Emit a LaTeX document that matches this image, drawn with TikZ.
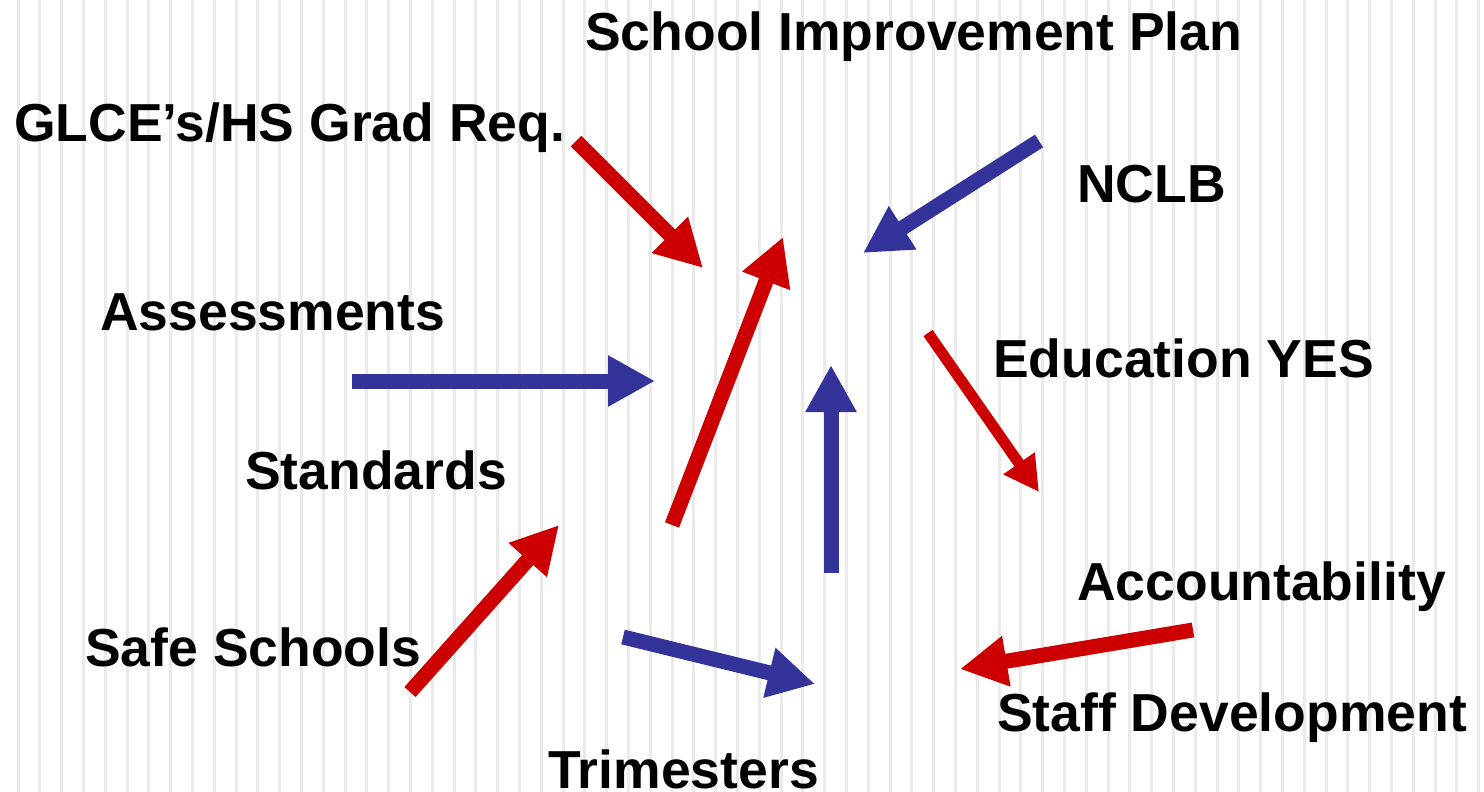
\documentclass[tikz,border=0pt]{standalone}
\usepackage{fontspec}
\setmainfont{Liberation Sans}
\usetikzlibrary{arrows.meta}
\definecolor{arrred}{HTML}{CC0000}
\definecolor{arrblue}{HTML}{333399}
\definecolor{stripegray}{HTML}{EAEAEA}
\begin{document}
\begin{tikzpicture}[x=1pt,y=-1pt,
  lbl/.style={anchor=base west, inner sep=0pt, font=\fontsize{53.5}{60}\selectfont\bfseries},
  bigarrow/.style={line width=15pt, -{Triangle[length=47pt,width=48pt]}},
  thinarrow/.style={line width=11pt, -{Triangle[length=35pt,width=36pt]}},
  stripe/.style={draw=stripegray, line width=3pt},
]
\useasboundingbox (0,0) rectangle (1484,792);
\fill[white] (0,0) rectangle (1484,792);
\foreach \i in {0,...,67} {
  \draw[stripe] ({18+21.8*\i},0) -- ({18+21.8*\i},792);
}
% labels
\node[lbl] (sip) at (585,51) {School Improvement Plan};
\node[lbl] (glce) at (14,141) {GLCE’s/HS Grad Req.};
\node[lbl] (nclb) at (1077,202) {NCLB};
\node[lbl] (assess) at (100,330) {Assessments};
\node[lbl] (eduyes) at (993,377) {Education YES};
\node[lbl] (stand) at (245,489) {Standards};
\node[lbl] (acc) at (1077,600) {Accountability};
\node[lbl] (safe) at (85,666) {Safe Schools};
\node[lbl] (staff) at (997,731) {Staff Development};
\node[lbl] (trim) at (548,788) {Trimesters};
% arrow end points
\coordinate (a1s) at (576,141);   \coordinate (a1e) at (703,268);
\coordinate (a2s) at (672,525);   \coordinate (a2e) at (783,237);
\coordinate (a3s) at (1039,141);  \coordinate (a3e) at (863,253);
\coordinate (a4s) at (352,381);   \coordinate (a4e) at (655,381);
\coordinate (a5s) at (831,573);   \coordinate (a5e) at (831,365);
\coordinate (a6s) at (928,333);   \coordinate (a6e) at (1039,492);
\coordinate (a7s) at (410,692);   \coordinate (a7e) at (559,525);
\coordinate (a8s) at (623,637);   \coordinate (a8e) at (815,684);
\coordinate (a9s) at (1193,630);  \coordinate (a9e) at (960,669);
% arrows
\draw[bigarrow, arrred] (a1s) -- (a1e);
\draw[bigarrow, arrred] (a2s) -- (a2e);
\draw[bigarrow, arrblue] (a3s) -- (a3e);
\draw[bigarrow, arrblue] (a4s) -- (a4e);
\draw[bigarrow, arrblue] (a5s) -- (a5e);
\draw[thinarrow, arrred] (a6s) -- (a6e);
\draw[bigarrow, arrred] (a7s) -- (a7e);
\draw[bigarrow, arrblue] (a8s) -- (a8e);
\draw[bigarrow, arrred] (a9s) -- (a9e);
\end{tikzpicture}
\end{document}
